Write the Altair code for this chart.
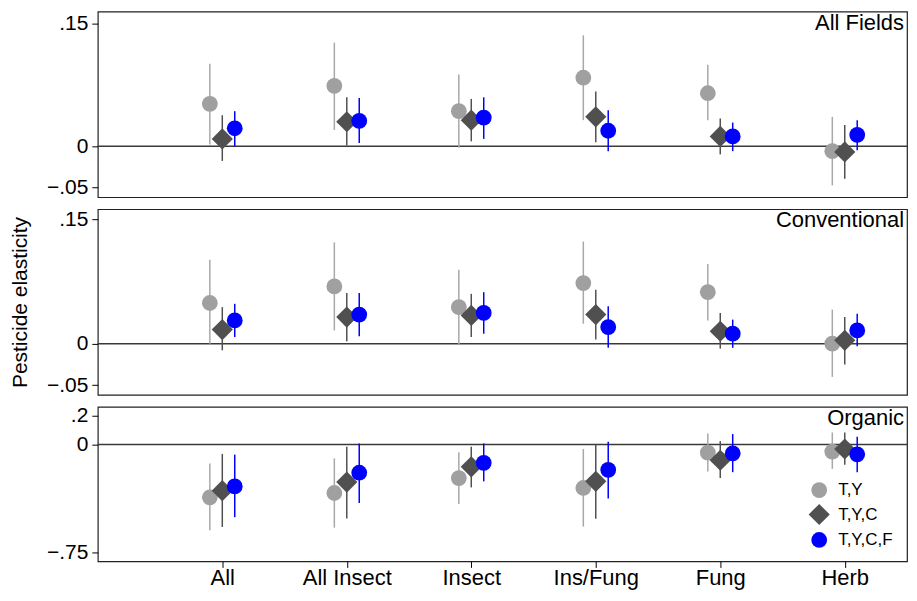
import json
import altair as alt
import pandas as pd

categories = ["All", "All Insect", "Insect", "Ins/Fung", "Fung", "Herb"]
series = ["T,Y", "T,Y,C", "T,Y,C,F"]

# All Fields
af_ty_est = [0.052, 0.074, 0.043, 0.084, 0.065, -0.006]
af_ty_lo = [0.002, 0.020, -0.002, 0.032, 0.032, -0.048]
af_ty_hi = [0.101, 0.127, 0.088, 0.136, 0.100, 0.036]
af_tyc_est = [0.009, 0.030, 0.032, 0.036, 0.012, -0.007]
af_tyc_lo = [-0.018, 0.001, 0.006, 0.005, -0.010, -0.040]
af_tyc_hi = [0.038, 0.060, 0.058, 0.067, 0.034, 0.026]
af_tycf_est = [0.022, 0.031, 0.035, 0.019, 0.012, 0.014]
af_tycf_lo = [0.000, 0.004, 0.009, -0.006, -0.006, -0.005]
af_tycf_hi = [0.043, 0.059, 0.060, 0.044, 0.029, 0.032]

# Conventional
cv_ty_est = [0.049, 0.069, 0.044, 0.073, 0.062, 0.000]
cv_ty_lo = [0.000, 0.016, -0.002, 0.024, 0.028, -0.040]
cv_ty_hi = [0.101, 0.122, 0.089, 0.123, 0.096, 0.041]
cv_tyc_est = [0.017, 0.032, 0.034, 0.035, 0.015, 0.004]
cv_tyc_lo = [-0.008, 0.003, 0.008, 0.005, -0.006, -0.025]
cv_tyc_hi = [0.044, 0.061, 0.060, 0.065, 0.037, 0.032]
cv_tycf_est = [0.028, 0.035, 0.037, 0.020, 0.012, 0.016]
cv_tycf_lo = [0.008, 0.009, 0.012, -0.005, -0.005, -0.003]
cv_tycf_hi = [0.048, 0.061, 0.062, 0.045, 0.029, 0.036]

# Organic
og_ty_est = [-0.368, -0.338, -0.234, -0.303, -0.057, -0.050]
og_ty_lo = [-0.597, -0.579, -0.414, -0.572, -0.188, -0.170]
og_ty_hi = [-0.133, -0.097, -0.055, -0.032, 0.076, 0.083]
og_tyc_est = [-0.322, -0.262, -0.156, -0.257, -0.110, -0.032]
og_tyc_lo = [-0.574, -0.515, -0.299, -0.517, -0.234, -0.142]
og_tyc_hi = [-0.066, -0.016, -0.016, 0.000, 0.023, 0.083]
og_tycf_est = [-0.292, -0.197, -0.128, -0.177, -0.062, -0.069]
og_tycf_lo = [-0.506, -0.407, -0.257, -0.377, -0.193, -0.193]
og_tycf_hi = [-0.071, 0.007, 0.007, 0.018, 0.072, 0.053]

FONT = "Liberation Sans"
W = 811
point_colors = ["#a0a0a0", "#505050", "#0000ff"]
line_colors = ["#a8a8a8", "#505050", "#0000ff"]
shapes = ["circle", "diamond", "circle"]
sizes = [250, 450, 250]


def make_df(est_lists, lo_lists, hi_lists):
    rows = []
    for s_i, s in enumerate(series):
        for c_i, c in enumerate(categories):
            rows.append({"cat": c, "idx": c_i + 1, "series": s, "sord": s_i,
                         "est": est_lists[s_i][c_i], "lo": lo_lists[s_i][c_i],
                         "hi": hi_lists[s_i][c_i]})
    return pd.DataFrame(rows)


label_expr_x = json.dumps(categories) + "[datum.value - 1]"
label_expr_y = ("datum.value == 0 ? '0' : replace(replace(format(datum.value, '.2~f'), '0.', '.'), '-', '\u2212')")


def panel(df, title, domain, ticks, height, show_x, show_title, show_legend):
    base = alt.Chart(df).transform_calculate(
        xpos="datum.idx + (datum.sord - 1) * 0.1",
        line_series="datum.series",
    )
    xenc = alt.X("xpos:Q", scale=alt.Scale(domain=[0, 6.5], nice=False, zero=False),
                 axis=alt.Axis(values=[1, 2, 3, 4, 5, 6], labelExpr=label_expr_x, title=None,
                               grid=False, domain=False, tickSize=6, labelPadding=0,
                               labelFontSize=22, labelFont=FONT, labelColor="black",
                               tickColor="black", tickWidth=1)
                 if show_x else None)
    yscale = alt.Scale(domain=domain, nice=False, zero=False)
    yaxis = alt.Axis(values=ticks, labelExpr=label_expr_y, grid=False, domain=False,
                     tickSize=6, labelPadding=4, labelFontSize=21, labelFont=FONT,
                     labelColor="black", tickColor="black", tickWidth=1,
                     title="Pesticide elasticity" if show_title else None,
                     titleFontSize=21, titleFont=FONT, titleFontWeight="normal",
                     titleColor="black", titlePadding=16)
    zero = alt.Chart(pd.DataFrame({"z": [0]})).mark_rule(color="#3a3a3a", strokeWidth=1.5).encode(
        y=alt.Y("z:Q", scale=yscale, axis=yaxis)
    )
    # stroke scale keeps a data-driven domain (sorted = series order) so that its
    # hidden legend is not merged with the point legend
    rules = base.mark_rule(strokeWidth=1.5).encode(
        x=xenc,
        y=alt.Y("lo:Q", scale=yscale, axis=yaxis),
        y2="hi:Q",
        stroke=alt.Stroke("line_series:N", scale=alt.Scale(range=line_colors), legend=None),
    )
    legend = (alt.Legend(title=None, orient="none", legendX=712, legendY=75,
                         labelFontSize=17, labelFont=FONT, labelColor="black",
                         symbolStrokeWidth=0, padding=0, rowPadding=5,
                         labelOffset=8)
              if show_legend else None)
    pts = base.mark_point(filled=True, opacity=1, strokeWidth=0).encode(
        x=xenc,
        y=alt.Y("est:Q", scale=yscale, axis=yaxis),
        color=alt.Color("series:N", scale=alt.Scale(domain=series, range=point_colors), legend=legend),
        shape=alt.Shape("series:N", scale=alt.Scale(domain=series, range=shapes), legend=legend),
        size=alt.Size("series:N", scale=alt.Scale(type="ordinal", domain=series, range=sizes),
                      legend=legend),
        order=alt.Order("sord:Q"),
    )
    label = alt.Chart(pd.DataFrame({"t": [title]})).mark_text(
        align="right", baseline="top", fontSize=22, font=FONT, color="black"
    ).encode(text="t:N", x=alt.value(W - 3), y=alt.value(1))
    return alt.layer(zero, rules, pts, label).properties(width=W, height=height)


p1 = panel(make_df([af_ty_est, af_tyc_est, af_tycf_est], [af_ty_lo, af_tyc_lo, af_tycf_lo],
                   [af_ty_hi, af_tyc_hi, af_tycf_hi]),
           "All Fields", [-0.0625, 0.165], [-0.05, 0, 0.15], 186, False, False, False)
p2 = panel(make_df([cv_ty_est, cv_tyc_est, cv_tycf_est], [cv_ty_lo, cv_tyc_lo, cv_tycf_lo],
                   [cv_ty_hi, cv_tyc_hi, cv_tycf_hi]),
           "Conventional", [-0.0616, 0.162], [-0.05, 0, 0.15], 186, False, True, False)
p3 = panel(make_df([og_ty_est, og_tyc_est, og_tycf_est], [og_ty_lo, og_tyc_lo, og_tycf_lo],
                   [og_ty_hi, og_tyc_hi, og_tycf_hi]),
           "Organic", [-0.814, 0.262], [-0.75, 0, 0.2], 155, True, False, True)

chart = alt.vconcat(p1, p2, p3, spacing=12, bounds="flush").resolve_scale(
    y="independent", color="independent", shape="independent", size="independent",
    stroke="independent"
).properties(
    padding={"left": 0, "top": 2, "right": 0, "bottom": 0},
    background="white",
).configure_view(
    stroke="#222222", strokeWidth=1.2
)

chart.save("out.html", embed_options={"renderer": "svg", "actions": False})
